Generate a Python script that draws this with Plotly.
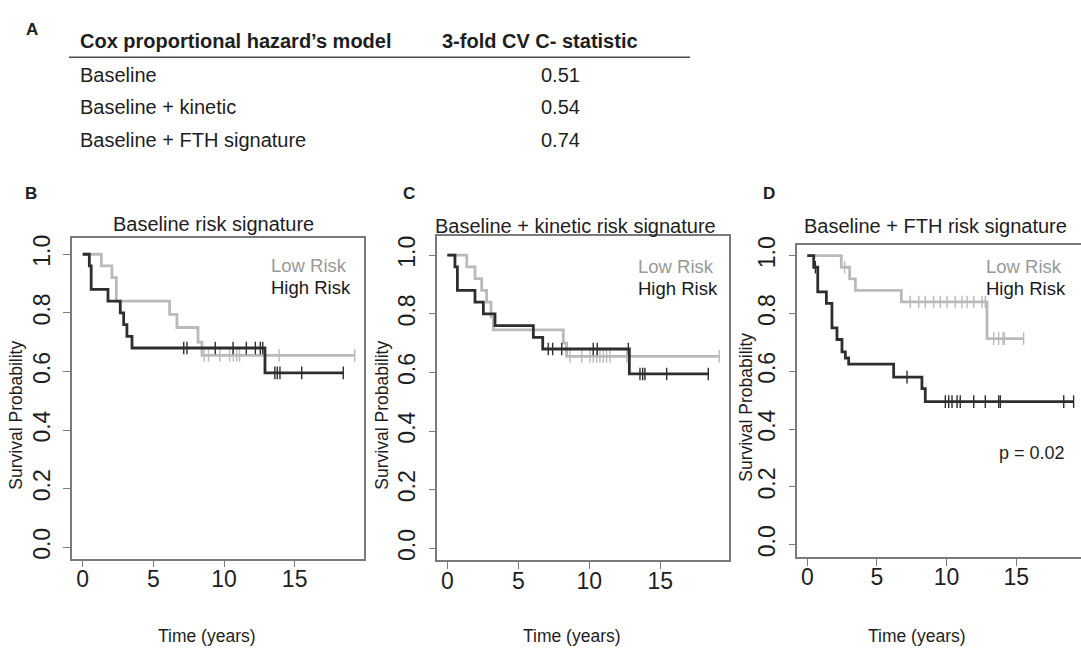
import plotly.graph_objects as go

W, H = 1081, 650
FONT = "Liberation Sans, Arial, Helvetica, sans-serif"

# ---------------- Panel A: model comparison table ----------------
table_header = ["Cox proportional hazard\u2019s model", "3-fold CV C- statistic"]
model_names = ["Baseline", "Baseline + kinetic", "Baseline + FTH signature"]
c_statistic = [0.51, 0.54, 0.74]

# ---------------- Kaplan-Meier curves ----------------
panel_titles = ["Baseline risk signature",
                "Baseline + kinetic risk signature",
                "Baseline + FTH risk signature"]
panel_letters = ["B", "C", "D"]
group_names = ["Low Risk", "High Risk"]
p_value_text = "p = 0.02"

# Panel B
b_low_time = [0, 1.32, 2.07, 2.38, 6.15, 6.67, 8.16, 8.44, 19.25]
b_low_surv = [1.0, 0.96, 0.92, 0.84, 0.795, 0.75, 0.70, 0.655, 0.655]
b_low_cens_time = [8.6, 8.9, 9.7, 10.4, 10.66, 10.9, 11.1, 13.9, 19.25]
b_low_cens_surv = [0.655] * 9
b_high_time = [0, 0.47, 0.6, 1.79, 2.66, 2.9, 3.13, 3.49, 12.9, 18.44]
b_high_surv = [1.0, 0.96, 0.88, 0.84, 0.80, 0.76, 0.72, 0.68, 0.595, 0.595]
b_high_cens_time = [7.15, 7.38, 9.38, 10.64, 11.58, 12.22, 12.57, 12.74,
                    13.6, 13.77, 13.96, 15.5, 18.44]
b_high_cens_surv = [0.68] * 8 + [0.595] * 5

# Panel C
c_low_time = [0, 1.37, 1.95, 2.42, 2.77, 3.08, 3.24, 8.17, 8.4, 19.15]
c_low_surv = [1.0, 0.96, 0.92, 0.88, 0.84, 0.79, 0.745, 0.70, 0.655, 0.655]
c_low_cens_time = [8.64, 9.47, 10.05, 10.28, 10.52, 10.75, 10.99, 11.22,
                   11.46, 12.64, 19.15]
c_low_cens_surv = [0.655] * 11
c_high_time = [0, 0.54, 0.71, 1.95, 2.54, 3.36, 6.06, 6.72, 12.82, 18.38]
c_high_surv = [1.0, 0.96, 0.88, 0.84, 0.80, 0.76, 0.72, 0.68, 0.595, 0.595]
c_high_cens_time = [7.11, 7.42, 8.06, 10.28, 10.56, 12.75,
                    13.57, 13.76, 13.92, 15.45, 18.38]
c_high_cens_surv = [0.68] * 6 + [0.595] * 5

# Panel D
d_low_time = [0, 2.44, 3.04, 3.45, 6.75, 12.9, 15.53]
d_low_surv = [1.0, 0.96, 0.92, 0.88, 0.84, 0.713, 0.713]
d_low_cens_time = [2.68, 7.39, 8.0, 8.47, 9.07, 9.55, 10.03, 10.62, 11.1,
                   11.47, 11.95, 12.54, 12.78, 13.38, 13.74, 14.05, 14.14, 15.53]
d_low_cens_surv = [0.96] + [0.84] * 12 + [0.713] * 5
d_high_time = [0, 0.46, 0.75, 1.37, 1.77, 2.13, 2.49, 2.73, 2.97, 6.2, 8.23, 8.47, 19.12]
d_high_surv = [1.0, 0.96, 0.875, 0.835, 0.75, 0.71, 0.667, 0.646, 0.625, 0.58, 0.54,
               0.495, 0.495]
d_high_cens_time = [0.58, 7.16, 9.91, 10.15, 10.39, 10.75, 10.98, 11.95, 12.78,
                    13.74, 13.86, 18.41, 19.12]
d_high_cens_surv = [0.96, 0.58] + [0.495] * 11

x_tick_vals = [0, 5, 10, 15]
y_tick_vals = [0.0, 0.2, 0.4, 0.6, 0.8, 1.0]
y_tick_text = ["0.0", "0.2", "0.4", "0.6", "0.8", "1.0"]
x_label = "Time (years)"
y_label = "Survival Probability"

LOW_COLOR = "#bababa"
HIGH_COLOR = "#2e2e2e"
LOW_TEXT = "#999999"
HIGH_TEXT = "#1a1a1a"
FRAME = "#7a7a7a"
TEXT = "#1e1e1e"


def px(x):
    return x / W


def py(y):
    return 1 - y / H


panels = [
    dict(low=(b_low_time, b_low_surv, b_low_cens_time, b_low_cens_surv),
         high=(b_high_time, b_high_surv, b_high_cens_time, b_high_cens_surv),
         box=(72, 364, 232.7, 558.3), xr=[-0.757, 19.908], yr=[-0.039, 1.055],
         title_x=213.5, title_y=218, letter_x=31, leg_x=269, leg_y=(261, 282.5),
         ylab_x=16, ylab_y=413, xlab_x=207, mirror_y=True),
    dict(low=(c_low_time, c_low_surv, c_low_cens_time, c_low_cens_surv),
         high=(c_high_time, c_high_surv, c_high_cens_time, c_high_cens_surv),
         box=(437.3, 729.3, 231, 560), xr=[-0.704, 19.86], yr=[-0.041, 1.064],
         title_x=575, title_y=220, letter_x=409, leg_x=635.5, leg_y=(262, 283.5),
         ylab_x=382, ylab_y=413, xlab_x=572, mirror_y=True),
    dict(low=(d_low_time, d_low_surv, d_low_cens_time, d_low_cens_surv),
         high=(d_high_time, d_high_surv, d_high_cens_time, d_high_cens_surv),
         box=(797.3, 1081, 240, 556.7), xr=[-0.718, 19.65], yr=[-0.043, 1.036],
         title_x=935, title_y=220, letter_x=769, leg_x=983.5, leg_y=(262, 283.5),
         ylab_x=746, ylab_y=405, xlab_x=917, mirror_y=False),
]

fig = go.Figure()
annotations = []
shapes = []


def add_text(text, x, y, size, color=TEXT, xanchor="center", textangle=0):
    annotations.append(dict(text=text, x=px(x), y=py(y), xref="paper", yref="paper",
                            xanchor=xanchor, yanchor="middle", showarrow=False,
                            textangle=textangle,
                            font=dict(family=FONT, size=size, color=color)))


layout_axes = {}
for i, p in enumerate(panels):
    n = "" if i == 0 else str(i + 1)
    xa, ya = "x" + n, "y" + n
    for key, color in (("low", LOW_COLOR), ("high", HIGH_COLOR)):
        t, s, ct, cs = p[key]
        fig.add_trace(go.Scatter(x=t, y=s, mode="lines", line_shape="hv",
                                 line=dict(color=color, width=2.8),
                                 xaxis=xa, yaxis=ya, showlegend=False,
                                 hoverinfo="skip"))
        fig.add_trace(go.Scatter(x=ct, y=cs, mode="markers",
                                 marker=dict(symbol="line-ns", size=9,
                                             line=dict(color=color, width=1.4)),
                                 xaxis=xa, yaxis=ya, showlegend=False,
                                 hoverinfo="skip"))
    x0, x1, y0, y1 = p["box"]
    layout_axes["xaxis" + n] = dict(
        domain=[px(x0), px(x1)], range=p["xr"], anchor=ya,
        tickvals=x_tick_vals, ticks="outside", ticklen=7, tickwidth=1.3,
        tickcolor=FRAME, showline=True, linecolor=FRAME, linewidth=1.5,
        mirror=True, showgrid=False, zeroline=False, ticklabelstandoff=-8,
        tickfont=dict(family=FONT, size=23, color=TEXT))
    layout_axes["yaxis" + n] = dict(
        domain=[py(y1), py(y0)], range=p["yr"], anchor=xa,
        tickvals=y_tick_vals, ticktext=y_tick_text, tickangle=-90,
        ticks="outside", ticklen=7, tickwidth=1.3, tickcolor=FRAME,
        showline=True, linecolor=FRAME, linewidth=1.5, mirror=p["mirror_y"],
        showgrid=False, zeroline=False, ticklabelstandoff=4,
        tickfont=dict(family=FONT, size=23, color=TEXT))

    add_text(panel_titles[i], p["title_x"], p["title_y"], 20)
    add_text("<b>" + panel_letters[i] + "</b>", p["letter_x"], 187, 17)
    add_text(group_names[0], p["leg_x"], p["leg_y"][0], 18.5, LOW_TEXT, "left")
    add_text(group_names[1], p["leg_x"], p["leg_y"][1], 18.5, HIGH_TEXT, "left")
    add_text(y_label, p["ylab_x"], p["ylab_y"], 17.5, TEXT, "center", -90)
    add_text(x_label, p["xlab_x"], 637, 17.5)

add_text(p_value_text, 996.7, 450.7, 18, TEXT, "left")

# Panel A table
add_text("<b>A</b>", 32, 21, 17)
add_text("<b>" + table_header[0] + "</b>", 78, 33, 20, TEXT, "left")
add_text("<b>" + table_header[1] + "</b>", 440, 33, 20, TEXT, "left")
row_y = [67, 99.5, 133]
for name, val, yy in zip(model_names, c_statistic, row_y):
    add_text(name, 78, yy, 20, TEXT, "left")
    add_text(f"{val:.2f}", 560, yy, 20, TEXT, "center")
shapes.append(dict(type="line", xref="paper", yref="paper",
                   x0=px(69), x1=px(690), y0=py(49), y1=py(49),
                   line=dict(color="#4a4a4a", width=1.5)))

fig.update_layout(
    width=W, height=H, margin=dict(l=0, r=0, t=0, b=0),
    paper_bgcolor="white", plot_bgcolor="white",
    annotations=annotations, shapes=shapes, showlegend=False,
    **layout_axes)

fig.write_html("out.html")
